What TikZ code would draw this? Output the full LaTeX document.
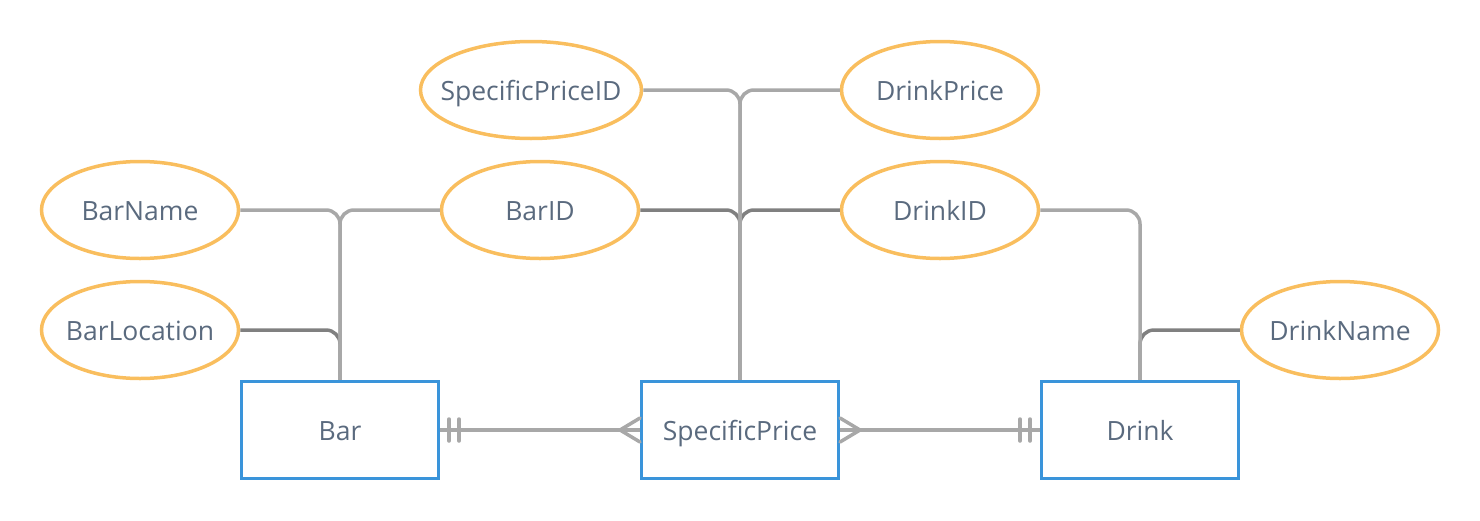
\documentclass[tikz,border=0pt]{standalone}
\usepackage{fontspec}
\setmainfont{Open Sans}
\usetikzlibrary{shapes.geometric}
\definecolor{attrorange}{RGB}{249,190,94}
\definecolor{entblue}{RGB}{58,148,218}
\definecolor{labelgray}{RGB}{90,106,126}
\definecolor{linelight}{RGB}{168,168,168}
\definecolor{linedark}{RGB}{128,128,128}
\tikzset{
	attr/.style={ellipse, draw=attrorange, line width=3.5pt, minimum width=197pt, minimum height=97pt, inner xsep=-25pt, inner ysep=0pt, text=labelgray, text height=21pt, text depth=0pt, font=\fontsize{26.5}{30}\selectfont},
	entity/.style={rectangle, draw=entblue, line width=3.5pt, minimum width=197pt, minimum height=97pt, inner sep=0pt, text=labelgray, text height=21pt, text depth=0pt, font=\fontsize{26.5}{30}\selectfont},
	conn/.style={draw=linelight, line width=3.5pt, rounded corners=14pt},
	keyconn/.style={draw=linedark, line width=3.5pt, rounded corners=14pt},
	relmark/.style={draw=linelight, line width=3.5pt, line cap=round}
}
\begin{document}
\begin{tikzpicture}[x=1pt,y=-1pt]

	\useasboundingbox (0,0) rectangle (1480,520);

	% entities
	\node [entity] (bar) at (340,430) {Bar};
	\node [entity] (sp) at (740,430) {SpecificPrice};
	\node [entity] (drink) at (1140,430) {Drink};

	% attributes
	\node [attr] (barname) at (140,210) {BarName};
	\node [attr] (barloc) at (140,330) {BarLocation};
	\node [attr] (barid) at (540,210) {BarID};
	\node [attr, minimum width=221pt] (spid) at (531,90) {SpecificPriceID};
	\node [attr] (dprice) at (940,90) {DrinkPrice};
	\node [attr] (drinkid) at (940,210) {DrinkID};
	\node [attr] (dname) at (1340,330) {DrinkName};

	% key links
	\draw [keyconn] (barloc.east) -| (bar.north);
	\draw [keyconn] (barid.east) -| (sp.north);
	\draw [keyconn] (drinkid.west) -| (sp.north);
	\draw [keyconn] (dname.west) -| (drink.north);

	% other links
	\draw [conn] (barname.east) -| (bar.north);
	\draw [conn] (barid.west) -| (bar.north);
	\draw [conn] (spid.east) -| (sp.north);
	\draw [conn] (dprice.west) -| (sp.north);
	\draw [conn] (drinkid.east) -| (drink.north);

	% relationships
	\draw [conn] (bar.east) -- (sp.west);
	\draw [conn] (sp.east) -- (drink.west);
	\draw [relmark] (449,419) -- (449,441);
	\draw [relmark] (459,419) -- (459,441);
	\draw [relmark] (640,418) -- (620,430) -- (640,442);
	\draw [relmark] (840,418) -- (860,430) -- (840,442);
	\draw [relmark] (1020,419) -- (1020,441);
	\draw [relmark] (1030,419) -- (1030,441);

\end{tikzpicture}
\end{document}
